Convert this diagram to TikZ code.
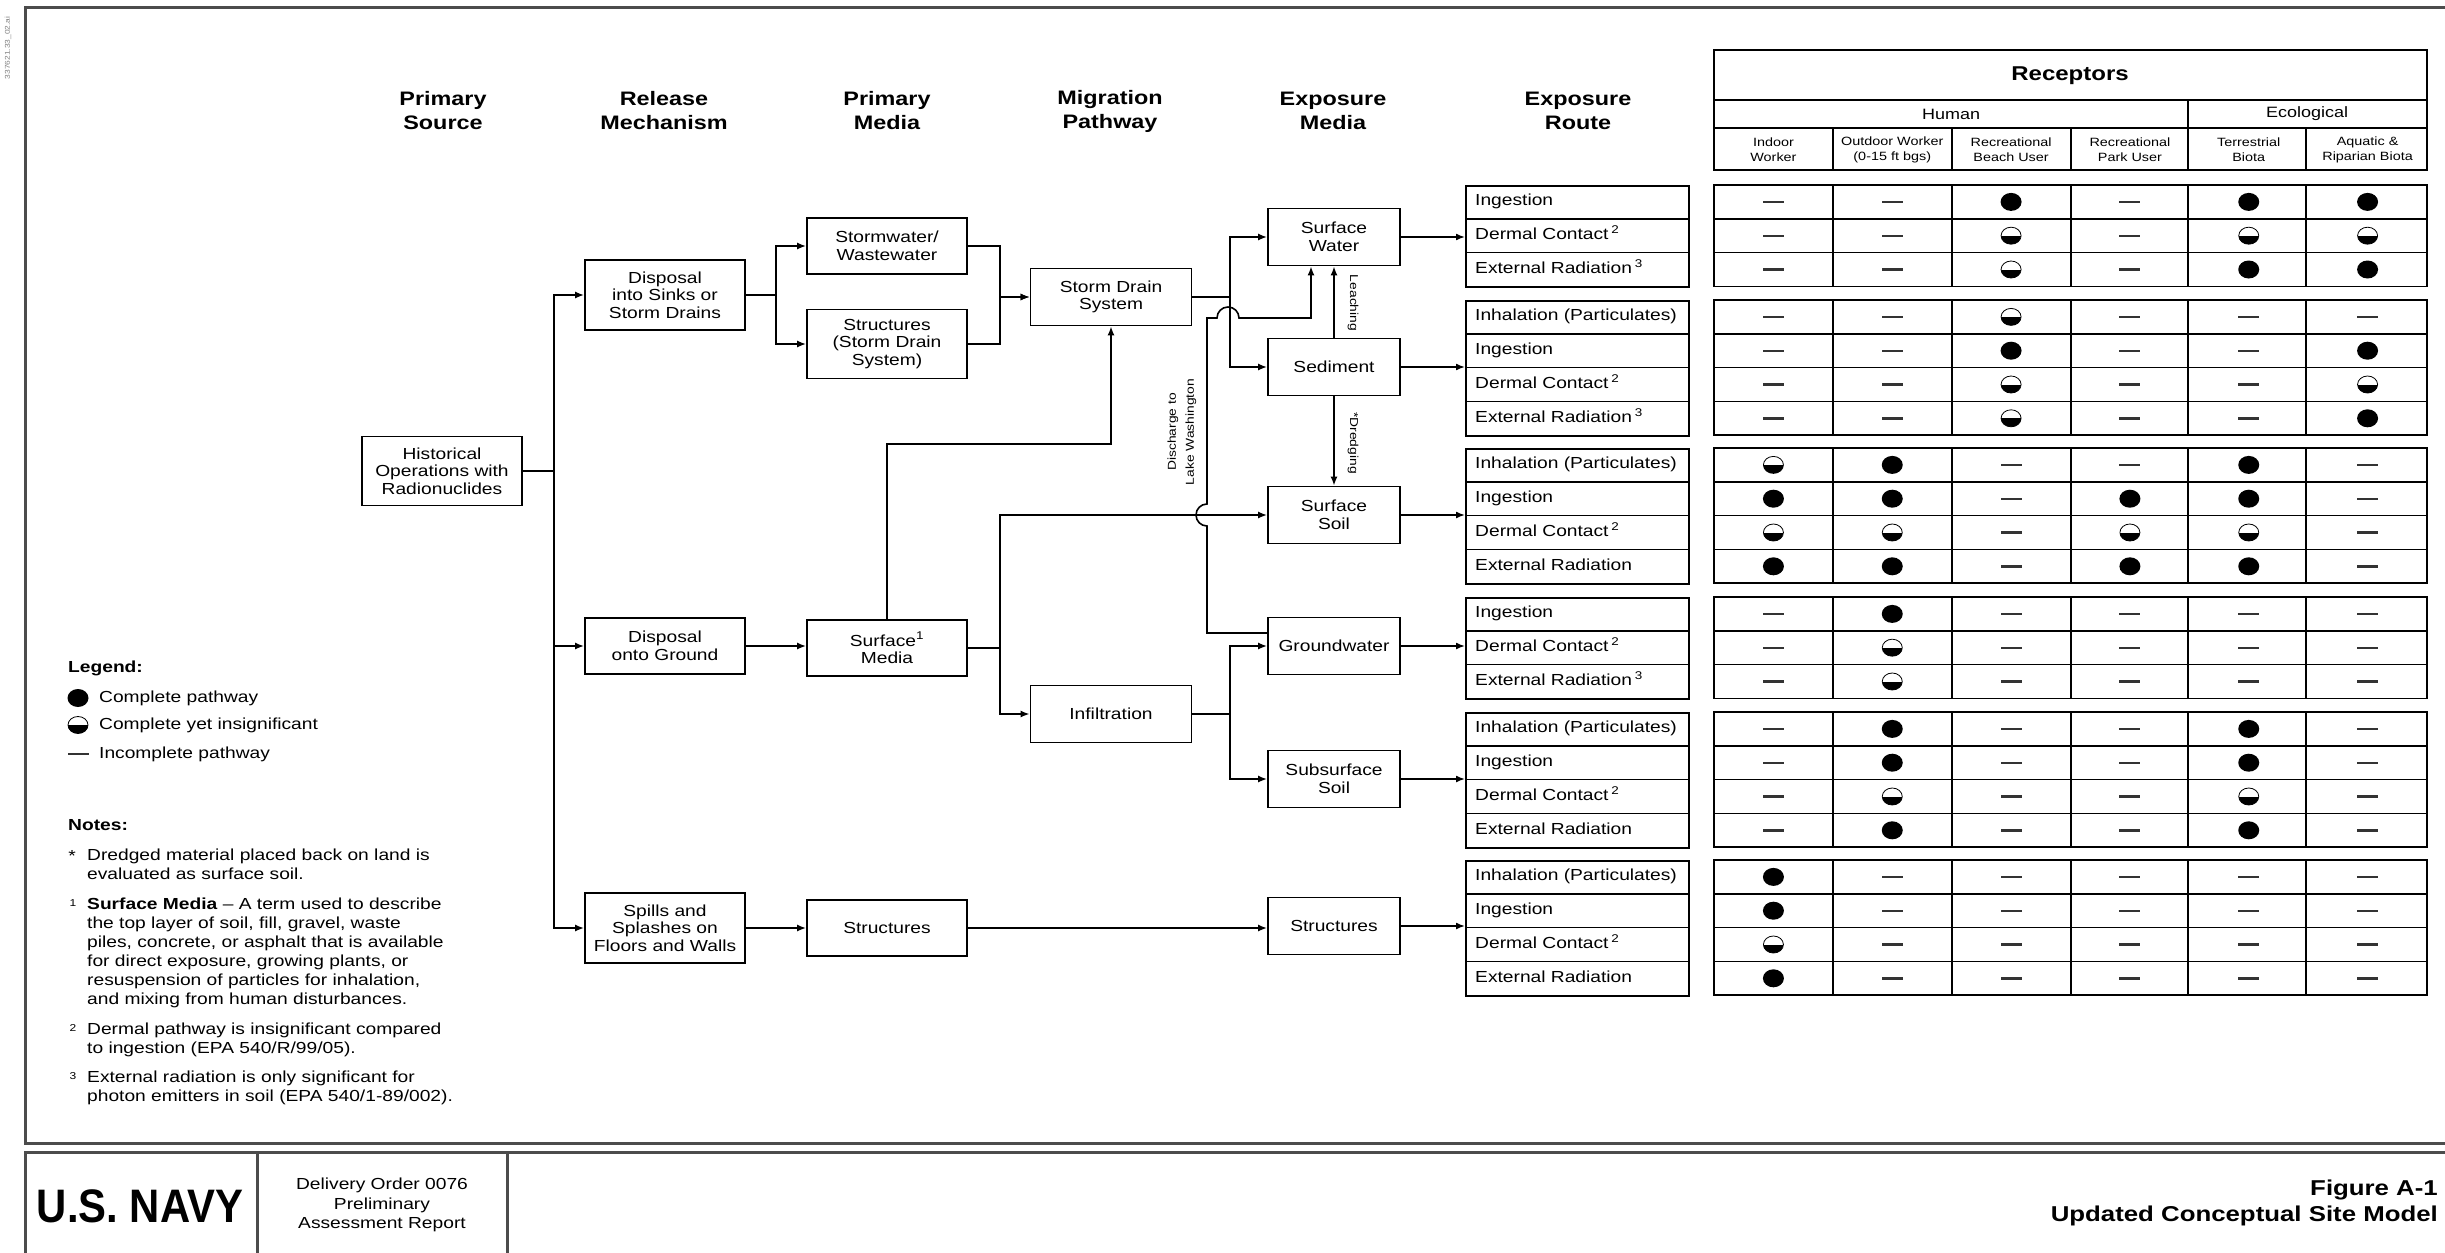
\documentclass[tikz,border=0pt]{standalone}
\usepackage{fontspec}
\setmainfont{Liberation Sans}[FakeStretch=1.2]
\newfontfamily\navyfont{Liberation Sans}[FakeStretch=0.89]
\usetikzlibrary{arrows.meta,shapes.geometric}

\newcommand{\cmbox}{\fontsize{16}{17.7}\selectfont}
\newcommand{\cmhead}{\fontsize{19.5}{24}\selectfont\bfseries}
\newcommand{\cmnote}{\fontsize{16}{19}\selectfont}
\newcommand{\cmsmall}{\fontsize{11.5}{18}\selectfont}
\newcommand{\cmsub}{\fontsize{12}{15}\selectfont}

\begin{document}
\begin{tikzpicture}[x=1pt, y=-1pt,
    box/.style={draw, line width=1.8pt, align=center, inner sep=1pt,
      minimum width=160pt, minimum height=56pt, font=\cmbox},
    media/.style={box, minimum width=132pt, minimum height=57pt},
    head/.style={align=center, font=\cmhead},
    link/.style={line width=1.6pt},
    arr/.style={link, -{Latex[length=9pt,width=7pt]}},
    tline/.style={line width=1.6pt},
    sheet/.style={draw=black!70, line width=3pt},
    rgroup/.style={draw, line width=1.8pt, minimum width=223pt, inner sep=0pt},
    rlabel/.style={anchor=west, font=\cmbox, inner sep=0pt, text height=11.5pt, text depth=3.5pt},
    note/.style={anchor=north west, align=left, font=\cmnote, inner sep=0pt},
    symF/.style={ellipse, fill=black, minimum width=21pt, minimum height=18pt, inner sep=0pt},
    symH/.style={ellipse, draw=black, line width=0.8pt, minimum width=20pt, minimum height=17pt, inner sep=0pt,
      path picture={\fill[black] (path picture bounding box.west) rectangle (path picture bounding box.south east);}},
    symN/.style={fill=black!80, minimum width=21pt, minimum height=2.4pt, inner sep=0pt}]

\clip (0,0) rectangle (2445,1253);
\fill[white] (0,0) rectangle (2445,1253);

% sheet frame and title block
\draw[sheet] (25,7) rectangle (2475,1143);
\draw[sheet] (25,1152) rectangle (2475,1275);
\draw[sheet] (257,1152) -- (257,1275);
\draw[sheet] (507,1152) -- (507,1275);
\node[rotate=90, font=\fontsize{7}{7}\selectfont, text=black!50] (fileid) at (8,48) {337621.33\_02.ai};

% column headings
\node[head] (hsource) at (443,111) {Primary\\Source};
\node[head] (hrelease) at (664,111) {Release\\Mechanism};
\node[head] (hprimary) at (887,111) {Primary\\Media};
\node[head] (hmigr) at (1110,111) {Migration\\Pathway};
\node[head] (hexpmedia) at (1333,111) {Exposure\\Media};
\node[head] (hroute) at (1578,111) {Exposure\\Route};

% flow boxes
\node[box, minimum height=69pt] (hist) at (442,471) {Historical\\Operations with\\Radionuclides};
\node[box, minimum height=70pt] (sinks) at (665,295) {Disposal\\into Sinks or\\Storm Drains};
\node[box] (ground) at (665,646) {Disposal\\onto Ground};
\node[box, minimum height=70pt] (spills) at (665,928) {Spills and\\Splashes on\\Floors and Walls};
\node[box] (stormw) at (887,246) {Stormwater/\\Wastewater};
\node[box, minimum height=69pt] (sdstruct) at (887,344) {Structures\\(Storm Drain\\System)};
\node[box] (surfmedia) at (887,648) {Surface\textsuperscript{1}\\Media};
\node[box] (struct1) at (887,928) {Structures};
\node[box, minimum width=161pt, minimum height=57pt] (stormdrain) at (1111,297) {Storm Drain\\System};
\node[box, minimum width=161pt, minimum height=57pt] (infil) at (1111,714) {Infiltration};
\node[media] (swater) at (1334,237) {Surface\\Water};
\node[media] (sediment) at (1334,367) {Sediment};
\node[media] (ssoil) at (1334,515) {Surface\\Soil};
\node[media] (gwater) at (1334,646) {Groundwater};
\node[media] (subsoil) at (1334,779) {Subsurface\\Soil};
\node[media] (struct2) at (1334,926) {Structures};

% connectors
\draw[arr] (hist.east) -- ++(31,0) |- (sinks.west);
\draw[arr] (hist.east) -- ++(31,0) |- (ground.west);
\draw[arr] (hist.east) -- ++(31,0) |- (spills.west);
\draw[arr] (sinks.east) -- ++(30,0) |- (stormw.west);
\draw[arr] (sinks.east) -- ++(30,0) |- (sdstruct.west);
\draw[arr] (stormw.east) -- ++(32,0) |- (stormdrain.west);
\draw[arr] (sdstruct.east) -- ++(32,0) |- (stormdrain.west);
\draw[arr] (ground.east) -- (ground.east -| surfmedia.west);
\draw[arr] (spills.east) -- (spills.east -| struct1.west);
\draw[arr] (surfmedia.north) -- ++(0,-175) -| (stormdrain.south);
\draw[arr] (surfmedia.east) -- ++(32,0) |- (ssoil.west);
\draw[arr] (surfmedia.east) -- ++(32,0) |- (infil.west);
\draw[arr] (stormdrain.east) -- ++(37.5,0) |- (swater.west);
\draw[arr] (stormdrain.east) -- ++(37.5,0) |- (sediment.west);
\draw[arr] (infil.east) -- ++(37.5,0) |- (gwater.west);
\draw[arr] (infil.east) -- ++(37.5,0) |- (subsoil.west);
\draw[arr] (struct1.east) -- (struct1.east -| struct2.west);
\draw[arr] (sediment.north) -- (swater.south);
\draw[arr] (sediment.south) -- (ssoil.north);
\draw[arr] ([yshift=13pt]gwater.west) -- (1207,633) -- (1207,526)
  arc[start angle=270, end angle=90, radius=11pt] -- (1207,318) -- (1217,318)
  arc[start angle=180, end angle=0, radius=11pt] -- (1311,318) -- ([xshift=-23pt]swater.south);
\node[rotate=90, align=center, font=\cmsmall] (dischlab) at (1182,432) {Discharge to\\Lake Washington};
\node[rotate=-90, font=\cmsmall] (leachlab) at (1353,303) {Leaching};
\node[rotate=-90, font=\cmsmall] (dredgelab) at (1353,443) {*Dredging};

% exposure routes and receptor table
\foreach \top/\n [count=\g] in {185/3,300/4,448/4,597/3,712/4,860/4} {
  \node[rgroup, anchor=north west, minimum height=\n*33.8pt] (r\g) at (1465,\top) {};
  \draw[tline] (1714,\top) rectangle (2427,{\top+\n*33.8});
  \pgfmathtruncatemacro\m{\n-1}
  \foreach \i in {1,...,\m} {
    \draw[tline] (1465,{\top+\i*33.8}) -- (1688,{\top+\i*33.8});
    \draw[tline] (1714,{\top+\i*33.8}) -- (2427,{\top+\i*33.8});
  }
  \foreach \x in {1833,1952,2071,2188,2306}
    \draw[tline] (\x,\top) -- (\x,{\top+\n*33.8});
}
\draw[arr] (swater.east) -- (swater.east -| r1.west);
\draw[arr] (sediment.east) -- (sediment.east -| r2.west);
\draw[arr] (ssoil.east) -- (ssoil.east -| r3.west);
\draw[arr] (gwater.east) -- (gwater.east -| r4.west);
\draw[arr] (subsoil.east) -- (subsoil.east -| r5.west);
\draw[arr] (struct2.east) -- (struct2.east -| r6.west);

\foreach \y/\lab/\codes in {
  {201.9/Ingestion/N,N,F,N,F,F},
  {235.7/Dermal Contact\,\textsuperscript{2}/N,N,H,N,H,H},
  {269.5/External Radiation\,\textsuperscript{3}/N,N,H,N,F,F},
  {316.9/Inhalation (Particulates)/N,N,H,N,N,N},
  {350.7/Ingestion/N,N,F,N,N,F},
  {384.5/Dermal Contact\,\textsuperscript{2}/N,N,H,N,N,H},
  {418.3/External Radiation\,\textsuperscript{3}/N,N,H,N,N,F},
  {464.9/Inhalation (Particulates)/H,F,N,N,F,N},
  {498.7/Ingestion/F,F,N,F,F,N},
  {532.5/Dermal Contact\,\textsuperscript{2}/H,H,N,H,H,N},
  {566.3/External Radiation/F,F,N,F,F,N},
  {613.9/Ingestion/N,F,N,N,N,N},
  {647.7/Dermal Contact\,\textsuperscript{2}/N,H,N,N,N,N},
  {681.5/External Radiation\,\textsuperscript{3}/N,H,N,N,N,N},
  {728.9/Inhalation (Particulates)/N,F,N,N,F,N},
  {762.7/Ingestion/N,F,N,N,F,N},
  {796.5/Dermal Contact\,\textsuperscript{2}/N,H,N,N,H,N},
  {830.3/External Radiation/N,F,N,N,F,N},
  {876.9/Inhalation (Particulates)/F,N,N,N,N,N},
  {910.7/Ingestion/F,N,N,N,N,N},
  {944.5/Dermal Contact\,\textsuperscript{2}/H,N,N,N,N,N},
  {978.3/External Radiation/F,N,N,N,N,N}} {
  \node[rlabel] at (1475,\y) {\lab};
  \foreach \c [count=\k] in \codes
    \node[sym\c] at ({1714+(\k-0.5)*118.83},\y) {};
}

% receptors heading
\draw[tline] (1714,50) rectangle (2427,170);
\draw[tline] (1714,100) -- (2427,100);
\draw[tline] (1714,128) -- (2427,128);
\draw[tline] (2188,100) -- (2188,170);
\foreach \x in {1833,1952,2071,2306}
  \draw[tline] (\x,128) -- (\x,170);
\node[font=\fontsize{20}{20}\selectfont\bfseries] (receptors) at (2070,76) {Receptors};
\node[font=\fontsize{15}{15}\selectfont] (human) at (1951,114) {Human};
\node[font=\fontsize{15}{15}\selectfont] (ecol) at (2307,114) {Ecological};
\foreach \lab [count=\k] in {Indoor\\Worker, Outdoor Worker\\(0-15 ft bgs), Recreational\\Beach User,
    Recreational\\Park User, Terrestrial\\Biota, Aquatic \&\\Riparian Biota}
  \node[align=center, font=\cmsub] at ({1714+(\k-0.5)*118.83},150) {\lab};

% legend and notes
\node[anchor=west, font=\cmnote\bfseries, inner sep=0pt] (legend) at (68,668) {Legend:};
\node[symF] (legF) at (78,698) {};
\node[symH] (legH) at (78,725) {};
\node[symN] (legN) at (78,754) {};
\node[anchor=west, font=\cmnote, inner sep=0pt] at (99,698) {Complete pathway};
\node[anchor=west, font=\cmnote, inner sep=0pt] at (99,725) {Complete yet insignificant};
\node[anchor=west, font=\cmnote, inner sep=0pt] at (99,754) {Incomplete pathway};
\node[anchor=west, font=\cmnote\bfseries, inner sep=0pt] (notes) at (68,825) {Notes:};
\node[font=\cmnote] at (72,856) {*};
\node[note] (note0) at (87,849) {Dredged material placed back on land is\\evaluated as surface soil.};
\node[font=\fontsize{10}{10}\selectfont] at (73,903) {1};
\node[note] (note1) at (87,898) {\textbf{Surface Media} -- A term used to describe\\the top layer of soil, fill, gravel, waste\\piles, concrete, or asphalt that is available\\for direct exposure, growing plants, or\\resuspension of particles for inhalation,\\and mixing from human disturbances.};
\node[font=\fontsize{10}{10}\selectfont] at (73,1028) {2};
\node[note] (note2) at (87,1023) {Dermal pathway is insignificant compared\\to ingestion (EPA 540/R/99/05).};
\node[font=\fontsize{10}{10}\selectfont] at (73,1076) {3};
\node[note] (note3) at (87,1071) {External radiation is only significant for\\photon emitters in soil (EPA 540/1-89/002).};

% title block
\node[font={\navyfont\fontsize{47}{47}\selectfont\bfseries}] (navy) at (140,1206) {U.S. NAVY};
\node[align=center, font=\fontsize{16}{19.5}\selectfont] (dorder) at (382,1205) {Delivery Order 0076\\Preliminary\\Assessment Report};
\node[anchor=east, inner sep=0pt, font=\fontsize{21.5}{24}\selectfont\bfseries] (fig) at (2438,1190) {Figure A-1};
\node[anchor=east, inner sep=0pt, font=\fontsize{21.5}{24}\selectfont\bfseries] (figtitle) at (2438,1216) {Updated Conceptual Site Model};
\end{tikzpicture}
\end{document}
